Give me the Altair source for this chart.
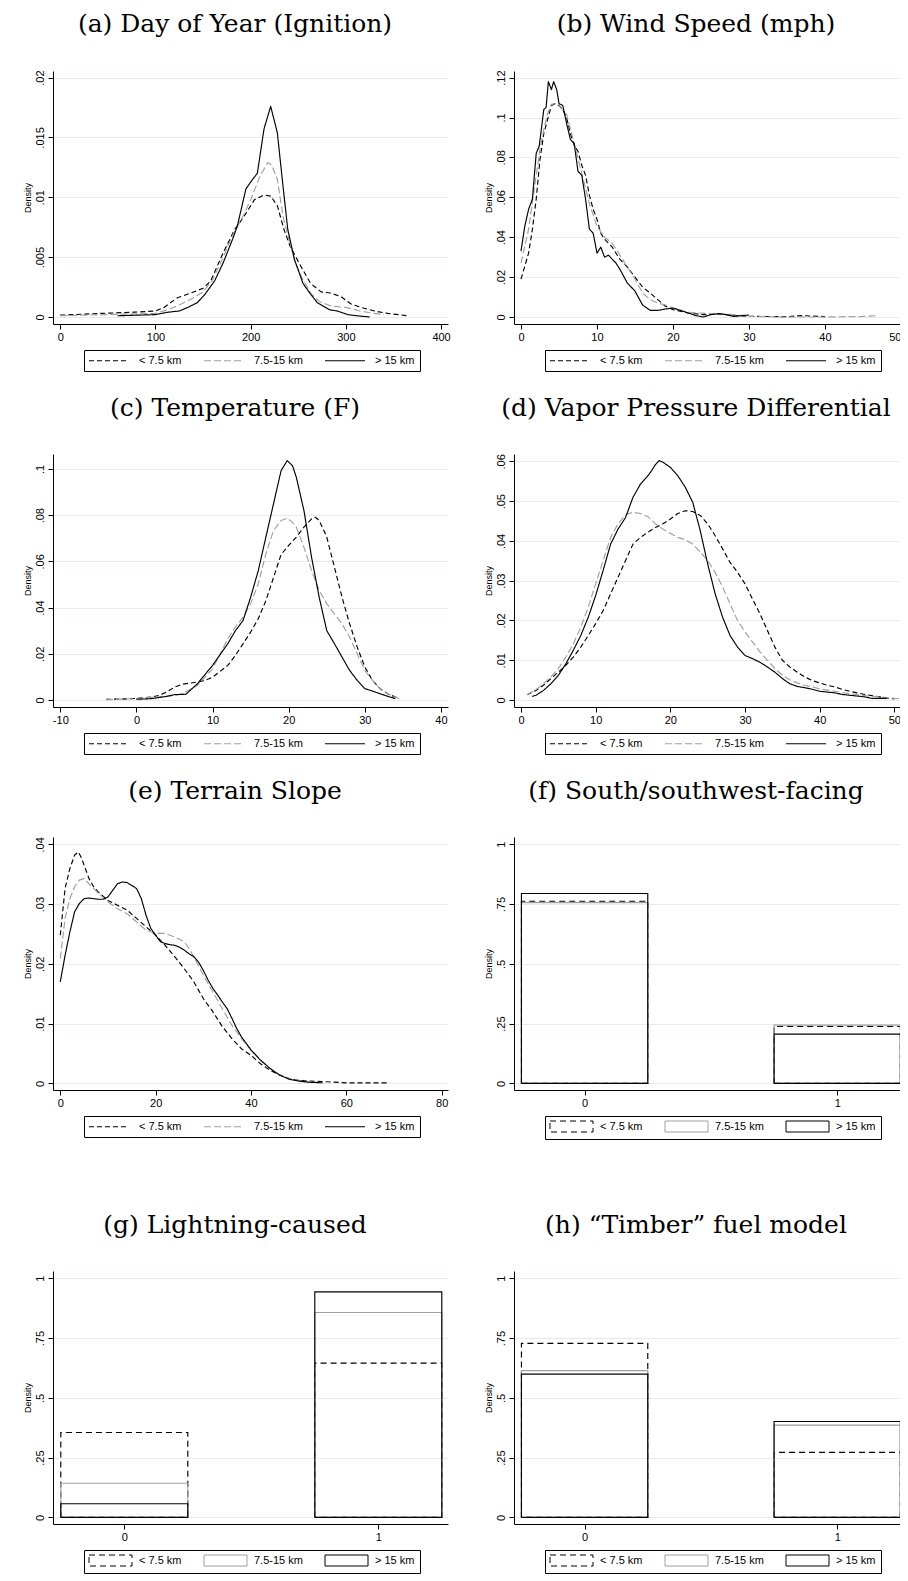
import altair as alt
import pandas as pd

GROUPS = ["< 7.5 km", "7.5-15 km", "> 15 km"]
LINE_COLORS = ["#000000", "#a0a0a0", "#000000"]
LINE_DASHES = [[5, 3], [7, 3], [1, 0]]
BAR_COLORS = ["#000000", "#a0a0a0", "#000000"]
BAR_DASHES = [[6, 4], [1, 0], [1, 0]]

# ---------------- (a) Day of Year ----------------
a_lt_x = [0, 43, 78, 100, 109, 123, 137, 150, 158, 169, 183, 193, 204, 214, 221, 228, 235, 242, 253, 263, 274, 284, 295, 305, 316, 330, 344, 365]
a_lt_y = [0.00015, 0.0003, 0.0004, 0.0005, 0.0008, 0.0016, 0.002, 0.0024, 0.003, 0.005, 0.0073, 0.0084, 0.0098, 0.0102, 0.0101, 0.0093, 0.0073, 0.0058, 0.0042, 0.0028, 0.0021, 0.002, 0.0017, 0.0011, 0.0008, 0.0005, 0.0003, 0.0001]
a_mid_x = [0, 100, 113, 125, 140, 150, 160, 170, 182, 190, 200, 210, 218, 222, 228, 234, 240, 247, 255, 263, 272, 285, 300, 315, 330, 340]
a_mid_y = [0.0001, 0.0003, 0.0006, 0.001, 0.0016, 0.0021, 0.0031, 0.0048, 0.007, 0.0081, 0.0098, 0.0118, 0.0129, 0.0127, 0.0115, 0.0084, 0.0065, 0.0045, 0.0031, 0.002, 0.0013, 0.0009, 0.0008, 0.0005, 0.0003, 0.0002]
a_gt_x = [60, 100, 113, 125, 134, 144, 152, 162, 171, 181, 186, 195, 202, 207, 214, 221, 228, 234, 239, 246, 255, 263, 270, 283, 291, 302, 312, 325]
a_gt_y = [0.0001, 0.0002, 0.0004, 0.0005, 0.0008, 0.0012, 0.0019, 0.003, 0.0045, 0.0065, 0.0076, 0.0107, 0.0115, 0.012, 0.0157, 0.0176, 0.0154, 0.0109, 0.0073, 0.0048, 0.0028, 0.0019, 0.0012, 0.0006, 0.0005, 0.0002, 0.0001, 0.0]

# ---------------- (b) Wind Speed ----------------
b_lt_x = [0, 1, 1.5, 2, 2.5, 3, 3.5, 4, 4.5, 5, 5.5, 6, 6.5, 7, 7.5, 8, 8.5, 9, 9.5, 10, 10.5, 11, 12, 13, 14, 15, 16, 17, 18, 19, 20, 22, 24, 26, 28, 30, 35, 37, 40]
b_lt_y = [0.019, 0.032, 0.044, 0.059, 0.079, 0.092, 0.099, 0.106, 0.107, 0.106, 0.104, 0.100, 0.092, 0.086, 0.083, 0.076, 0.071, 0.061, 0.054, 0.049, 0.042, 0.039, 0.035, 0.029, 0.025, 0.020, 0.015, 0.012, 0.0087, 0.0054, 0.0037, 0.002, 0.0012, 0.0015, 0.0007, 0.0003, 0.0002, 0.0007, 0.0002]
b_mid_x = [0, 1, 2, 2.5, 3, 3.5, 4, 4.5, 5, 6, 7, 8, 9, 10, 11, 12, 13, 14, 15, 16, 17, 18, 19, 20, 22, 25, 28, 30, 35, 40, 45, 47]
b_mid_y = [0.027, 0.044, 0.071, 0.084, 0.094, 0.102, 0.1066, 0.107, 0.106, 0.1016, 0.087, 0.072, 0.057, 0.0455, 0.040, 0.037, 0.031, 0.025, 0.019, 0.012, 0.0087, 0.007, 0.006, 0.0045, 0.0023, 0.0017, 0.0012, 0.0003, 0.0, 0.0, 0.0003, 0.0007]
b_gt_x = [0, 0.5, 1, 1.5, 2, 2.4, 3, 3.3, 3.6, 4, 4.3, 4.7, 5, 5.5, 6, 6.5, 7, 7.5, 8, 8.5, 9, 9.5, 10, 10.5, 11, 11.5, 12, 12.5, 13, 14, 15, 16, 17, 18, 19, 20, 21, 22, 23, 24, 25, 26, 27, 28, 29, 30]
b_gt_y = [0.033, 0.0455, 0.054, 0.059, 0.082, 0.0857, 0.104, 0.105, 0.118, 0.114, 0.118, 0.114, 0.107, 0.106, 0.097, 0.089, 0.087, 0.073, 0.071, 0.059, 0.044, 0.042, 0.032, 0.035, 0.030, 0.031, 0.029, 0.027, 0.024, 0.017, 0.013, 0.006, 0.0033, 0.0033, 0.004, 0.0045, 0.0033, 0.002, 0.0007, 0.0, 0.0012, 0.0017, 0.0012, 0.0003, 0.0007, 0.001]

# ---------------- (c) Temperature ----------------
c_lt_x = [-4, -2, 0, 2, 3, 4, 5, 6, 7, 8, 9, 10, 11, 12, 13, 14, 15, 16, 17, 18, 19, 20, 21, 22, 23, 23.5, 24, 25, 26, 27, 28, 29, 30, 31, 32, 33, 34, 34.5]
c_lt_y = [0.0003, 0.0004, 0.0007, 0.0013, 0.002, 0.0035, 0.0056, 0.0068, 0.0073, 0.0078, 0.0085, 0.0099, 0.0124, 0.015, 0.0193, 0.0243, 0.0294, 0.0352, 0.043, 0.053, 0.063, 0.0669, 0.0705, 0.0748, 0.0784, 0.0791, 0.0777, 0.0705, 0.0575, 0.0445, 0.033, 0.0229, 0.0143, 0.0085, 0.0049, 0.0027, 0.0013, 0.0006]
c_mid_x = [-4, 0, 4, 6, 8, 10, 11, 12, 13, 14, 15, 16, 17, 18, 19, 19.8, 20.5, 21, 22, 23, 24, 25, 26, 27, 28, 29, 30, 31, 32, 33, 34, 34.5]
c_mid_y = [0.0001, 0.0006, 0.0016, 0.0027, 0.0063, 0.0135, 0.020, 0.0265, 0.0316, 0.0359, 0.0417, 0.0503, 0.0633, 0.0733, 0.0777, 0.0787, 0.0769, 0.0748, 0.0661, 0.056, 0.0474, 0.0417, 0.0373, 0.033, 0.0272, 0.020, 0.0128, 0.0085, 0.0049, 0.0027, 0.0013, 0.0006]
c_gt_x = [0, 2, 4, 5, 6.5, 8, 10, 12, 13, 14, 15, 16, 17, 18, 19, 19.8, 20.5, 21, 22, 23, 24, 25, 26, 27, 28, 29, 30, 31, 32, 33, 34]
c_gt_y = [0.0003, 0.0006, 0.0016, 0.0023, 0.0025, 0.007, 0.015, 0.0244, 0.030, 0.0344, 0.0445, 0.056, 0.0705, 0.0849, 0.0993, 0.1036, 0.1014, 0.0964, 0.082, 0.0618, 0.0445, 0.030, 0.0244, 0.0186, 0.0128, 0.0085, 0.0049, 0.0039, 0.0027, 0.0016, 0.0006]

# ---------------- (d) Vapor Pressure Differential ----------------
d_lt_x = [0.8, 2, 3, 4, 5, 6, 7, 8, 9, 10, 11, 12, 13, 14, 15, 16, 17, 18, 19, 20, 21, 22, 23, 24, 25, 26, 27, 28, 29, 30, 31, 32, 33, 34, 35, 36, 37, 38, 39, 40, 41, 42, 43, 44, 45, 46, 47, 48, 49, 50]
d_lt_y = [0.0013, 0.0024, 0.0037, 0.0054, 0.007, 0.0087, 0.0108, 0.0133, 0.0162, 0.0192,
          0.0225, 0.0267, 0.0309, 0.0351, 0.0392, 0.0409, 0.0422, 0.0434, 0.0443, 0.0455,
          0.0469, 0.0476, 0.0474, 0.0464, 0.0443, 0.0413, 0.038, 0.0346, 0.0321, 0.0292,
          0.0254, 0.0217, 0.0175, 0.0133, 0.01, 0.0083, 0.007, 0.0058, 0.0049, 0.0043,
          0.0037, 0.0033, 0.0027, 0.0022, 0.0018, 0.0014, 0.0011, 0.0008, 0.0005, 0.0003]
d_mid_x = [0.8, 2, 3, 4, 5, 6, 7, 8, 9, 10, 11, 12, 13, 14, 15, 16, 17, 18, 19, 20, 21, 22, 23, 24, 25, 26, 27, 28, 29, 30, 31, 32, 33, 34, 35, 36, 37, 38, 39, 40, 42, 44, 46, 48, 50, 51]
d_mid_y = [0.0013, 0.0026, 0.0041, 0.0058, 0.0079, 0.0108, 0.0141, 0.0183, 0.0233, 0.0292,
           0.0351, 0.0409, 0.0443, 0.0466, 0.0472, 0.0469, 0.0461, 0.0443, 0.043, 0.0419,
           0.0409, 0.0403, 0.0392, 0.0372, 0.0351, 0.0321, 0.0284, 0.0242, 0.02, 0.0171,
           0.0146, 0.0121, 0.01, 0.0079, 0.0062, 0.0051, 0.0043, 0.0037, 0.0033, 0.0028,
           0.0022, 0.0016, 0.0011, 0.0008, 0.0004, 0.0003]
d_gt_x = [1.5, 2, 3, 4, 5, 6, 7, 8, 9, 10, 11, 12, 13, 14, 15, 16, 17, 17.5, 18, 18.5, 19, 20, 21, 22, 23, 24, 25, 26, 27, 28, 29, 30, 31, 32, 33, 34, 35, 36, 37, 38, 39, 40, 41, 42, 43, 44, 45, 46, 47, 48, 49]
d_gt_y = [0.0009, 0.0012, 0.0024, 0.0041, 0.0062, 0.0091, 0.0125, 0.0162, 0.0208, 0.0263, 0.0326, 0.0392, 0.043, 0.0459, 0.051, 0.0543, 0.0564, 0.0577, 0.0592, 0.0602, 0.0598, 0.0585, 0.0564, 0.0535, 0.0497, 0.0426, 0.0342, 0.0267, 0.0208, 0.0162, 0.0133, 0.0112, 0.0104, 0.0095, 0.0083, 0.007, 0.0054, 0.0041, 0.0034, 0.0031, 0.0027, 0.0022, 0.002, 0.0018, 0.0014, 0.0012, 0.001, 0.0008, 0.0004, 0.0004, 0.0004]

# ---------------- (e) Terrain Slope ----------------
e_lt_x = [0, 1, 2, 3, 3.8, 4.5, 5, 6, 7, 8, 10, 12, 14, 16, 18, 20, 22, 24, 26, 28, 30, 32, 34, 36, 38, 40, 42, 44, 46, 48, 50, 55, 60, 65, 69]
e_lt_y = [0.0248, 0.0326, 0.0359, 0.0382, 0.0387, 0.0376, 0.0365, 0.0343, 0.0329, 0.032, 0.0306, 0.0298, 0.029, 0.0276, 0.0262, 0.0248, 0.0231, 0.0212, 0.0192, 0.017, 0.0142, 0.012, 0.0095, 0.0075, 0.0058, 0.0047, 0.0033, 0.0022, 0.0014, 0.0008, 0.0005, 0.0003, 0.0001, 0.0001, 0.0001]
e_mid_x = [0, 1, 2, 3, 4, 5, 6, 7, 8, 10, 12, 14, 16, 18, 20, 22, 24, 26, 27, 28, 30, 32, 34, 36, 38, 40, 42, 44, 46, 48, 50, 52, 55]
e_mid_y = [0.0209, 0.0276, 0.0309, 0.0329, 0.034, 0.0343, 0.0334, 0.0326, 0.0318, 0.0304, 0.0292, 0.0284, 0.027, 0.0256, 0.0251, 0.0251, 0.0245, 0.0237, 0.0226, 0.0212, 0.0181, 0.0153, 0.0125, 0.0097, 0.0075, 0.0056, 0.0039, 0.0025, 0.0015, 0.0008, 0.0005, 0.0003, 0.0001]
e_gt_x = [0, 0.5, 1, 2, 3, 4, 5, 6, 7, 8, 9, 10, 11, 12, 13, 14, 15, 16, 17, 18, 19, 20, 21, 22, 23, 24, 25, 26, 27, 28, 29, 30, 31, 32, 33, 34, 35, 36, 37, 38, 39, 40, 42, 44, 46, 48, 50, 52, 55]
e_gt_y = [0.017, 0.0192, 0.0214, 0.0253, 0.0287, 0.0301, 0.0309, 0.031, 0.0309, 0.0308, 0.0308, 0.0312, 0.0323, 0.0334, 0.0337, 0.0336, 0.0331, 0.0326, 0.0309, 0.0281, 0.0259, 0.0248, 0.0237, 0.0234, 0.0232, 0.0231, 0.0228, 0.0223, 0.0217, 0.0212, 0.0203, 0.0189, 0.0173, 0.0159, 0.0148, 0.0136, 0.0125, 0.0109, 0.0092, 0.0078, 0.0067, 0.0056, 0.0039, 0.0025, 0.0014, 0.0007, 0.0004, 0.0002, 0.0001]

# ---------------- bar panels (f), (g), (h) ----------------
BAR_CATS = [0, 1]
f_lt = [0.762, 0.238]
f_mid = [0.756, 0.244]
f_gt = [0.794, 0.206]
g_lt = [0.355, 0.645]
g_mid = [0.143, 0.857]
g_gt = [0.057, 0.943]
h_lt = [0.728, 0.272]
h_mid = [0.614, 0.386]
h_gt = [0.599, 0.401]

TITLES = ["(a) Day of Year (Ignition)", "(b) Wind Speed (mph)", "(c) Temperature (F)",
          "(d) Vapor Pressure Differential", "(e) Terrain Slope", "(f) South/southwest-facing",
          "(g) Lightning-caused", "(h) \u201cTimber\u201d fuel model"]

SERIF = "DejaVu Serif"
SANS = "Liberation Sans"
W_LEFT = 395
W_RIGHT = 387
PLOT_H = 253
BAR_HALF = 0.25

YLAB = ("datum.value == 0 ? '0' : (datum.value >= 1 ? format(datum.value, 'd') : "
        "slice(format(datum.value, '.3~f'), 1))")


def ptitle(text, dx):
    return alt.TitleParams(text=text, font=SERIF, fontSize=25, fontWeight="normal", color="black",
                           anchor="middle", dx=dx, offset=13, baseline="alphabetic")


def y_axis(ticks):
    return alt.Axis(values=ticks, labelExpr=YLAB, labelAngle=270, labelAlign="center",
                    labelBaseline="bottom", labelPadding=3, labelFont=SANS, labelFontSize=11,
                    labelColor="black", tickSize=5, tickColor="black", tickWidth=1,
                    domainColor="black", domainWidth=1, grid=True, gridColor="#e4ecee", gridWidth=1,
                    title="Density", titleFont=SANS, titleFontSize=9, titleFontWeight="normal",
                    titleColor="black", titlePadding=2, labelOverlap=False)


def x_axis(ticks):
    return alt.Axis(values=ticks, labelExpr="toString(datum.value)", labelAngle=0, labelFont=SANS,
                    labelFontSize=11, labelColor="black", labelPadding=2, tickSize=5,
                    tickColor="black", tickWidth=1, domainColor="black", domainWidth=1,
                    grid=False, title=None, labelOverlap=False)


def legend(rect=False):
    kw = dict(title=None, orient="none", legendX=31, legendY=279, direction="horizontal",
              columns=3, labelFont=SANS, labelFontSize=11, labelColor="black", labelOffset=39,
              columnPadding=20, padding=5, strokeColor="black", fillColor="white",
              symbolStrokeWidth=1, symbolSize=25, symbolFillColor="white")
    if rect:
        kw.update(symbolType="M-2.2,-2.2H15V2.2H-2.2Z")
    else:
        kw.update(symbolType="M-2.2,0H13.8")
    return alt.Legend(**kw)


def density_panel(title, xs, ys, xdom, xticks, ydom, yticks, width, dx):
    rows = []
    for g, xl, yl in zip(GROUPS, xs, ys):
        for x, y in zip(xl, yl):
            rows.append({"group": g, "x": x, "y": y})
    df = pd.DataFrame(rows)
    lg = legend()
    return alt.Chart(df, title=ptitle(title, dx)).mark_line(
        strokeWidth=1.15, strokeJoin="round", clip=True).encode(
        x=alt.X("x:Q", scale=alt.Scale(domain=xdom, nice=False, zero=False), axis=x_axis(xticks)),
        y=alt.Y("y:Q", scale=alt.Scale(domain=ydom, nice=False, zero=False), axis=y_axis(yticks)),
        stroke=alt.Stroke("group:N", scale=alt.Scale(domain=GROUPS, range=LINE_COLORS), legend=lg),
        strokeDash=alt.StrokeDash("group:N", scale=alt.Scale(domain=GROUPS, range=LINE_DASHES), legend=lg),
    ).properties(width=width, height=PLOT_H)


def bar_panel(title, lt, mid, gt, xdom, width, dx):
    # each bar is drawn as its closed outline (corners from the bar's category and value)
    rows = []
    for g, vals in zip(GROUPS, [lt, mid, gt]):
        for c, v in zip(BAR_CATS, vals):
            corners = [(c - BAR_HALF, 0.0), (c - BAR_HALF, v), (c + BAR_HALF, v),
                       (c + BAR_HALF, 0.0), (c - BAR_HALF, 0.0)]
            for k, (x, y) in enumerate(corners):
                rows.append({"group": g, "key": f"{g}|{c}", "k": k, "x": x, "y": y})
    df = pd.DataFrame(rows)
    lg = legend(rect=True)
    return alt.Chart(df, title=ptitle(title, dx)).mark_line(
        strokeWidth=1.15, strokeJoin="miter").encode(
        x=alt.X("x:Q", scale=alt.Scale(domain=xdom, nice=False, zero=False), axis=x_axis(BAR_CATS)),
        y=alt.Y("y:Q", scale=alt.Scale(domain=[-0.0276, 1.0305], nice=False, zero=False),
                axis=y_axis([0, 0.25, 0.5, 0.75, 1])),
        stroke=alt.Stroke("group:N", scale=alt.Scale(domain=GROUPS, range=BAR_COLORS), legend=lg),
        strokeDash=alt.StrokeDash("group:N", scale=alt.Scale(domain=GROUPS, range=BAR_DASHES), legend=lg),
        detail="key:N",
        order="k:Q",
    ).properties(width=width, height=PLOT_H)


DX_L = -15.5
DX_R = -11.5

pa = density_panel(TITLES[0], [a_lt_x, a_mid_x, a_gt_x], [a_lt_y, a_mid_y, a_gt_y],
                   [-7.67, 407.3], [0, 100, 200, 300, 400], [-0.000586, 0.02055],
                   [0, 0.005, 0.01, 0.015, 0.02], W_LEFT, DX_L)
pb = density_panel(TITLES[1], [b_lt_x, b_mid_x, b_gt_x], [b_lt_y, b_mid_y, b_gt_y],
                   [-0.92, 50.0], [0, 10, 20, 30, 40, 50], [-0.00351, 0.12331],
                   [0, 0.02, 0.04, 0.06, 0.08, 0.1, 0.12], W_RIGHT, DX_R)
pc = density_panel(TITLES[2], [c_lt_x, c_mid_x, c_gt_x], [c_lt_y, c_mid_y, c_gt_y],
                   [-10.96, 40.92], [-10, 0, 10, 20, 30, 40], [-0.003025, 0.10648],
                   [0, 0.02, 0.04, 0.06, 0.08, 0.1], W_LEFT, DX_L)
pd_ = density_panel(TITLES[3], [d_lt_x, d_mid_x, d_gt_x], [d_lt_y, d_mid_y, d_gt_y],
                    [-0.94, 50.89], [0, 10, 20, 30, 40, 50], [-0.001757, 0.06186],
                    [0, 0.01, 0.02, 0.03, 0.04, 0.05, 0.06], W_RIGHT, DX_R)
pe = density_panel(TITLES[4], [e_lt_x, e_mid_x, e_gt_x], [e_lt_y, e_mid_y, e_gt_y],
                   [-1.53, 81.33], [0, 20, 40, 60, 80], [-0.0011, 0.04122],
                   [0, 0.01, 0.02, 0.03, 0.04], W_LEFT, DX_L)
pf = bar_panel(TITLES[5], f_lt, f_mid, f_gt, [-0.2795, 1.2524], W_RIGHT, DX_R)
pg = bar_panel(TITLES[6], g_lt, g_mid, g_gt, [-0.2807, 1.2744], W_LEFT, DX_L)
ph = bar_panel(TITLES[7], h_lt, h_mid, h_gt, [-0.2795, 1.2524], W_RIGHT, DX_R)


def indep(c):
    return c.resolve_scale(stroke="independent", strokeDash="independent").resolve_legend(
        stroke="independent", strokeDash="independent")


def row(a, b):
    return indep(alt.hconcat(a, b, spacing=66, bounds="flush"))


top = indep(alt.vconcat(row(pa, pb), row(pc, pd_), row(pe, pf), spacing=23))
chart = indep(alt.vconcat(top, row(pg, ph), spacing=73))
chart = chart.configure_view(stroke=None).properties(
    padding={"left": 14, "top": 3, "right": -3, "bottom": 0}, background="white")

chart.save("out.html", embed_options={"renderer": "svg", "actions": False})
